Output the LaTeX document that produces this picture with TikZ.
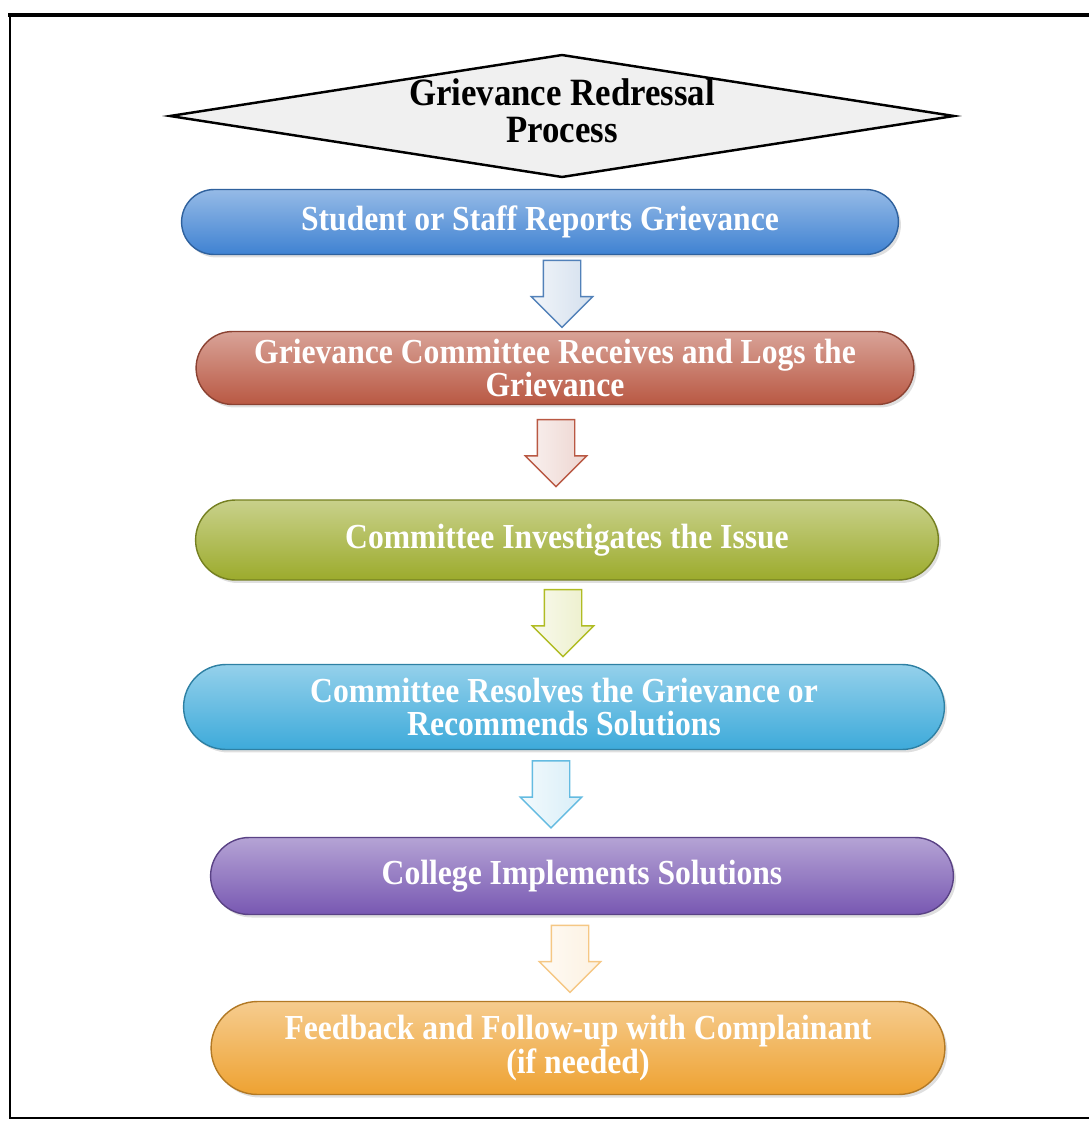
\documentclass[tikz,border=0pt]{standalone}
\usepackage{fontspec}
\setmainfont{Liberation Serif}
\newfontfamily\stepfont[FakeStretch=0.9]{Liberation Serif}
\usetikzlibrary{positioning,shapes.geometric,shapes.misc,shapes.arrows,shadows}

\definecolor{boxblue}{HTML}{3F82D2}
\definecolor{boxred}{HTML}{B95843}
\definecolor{boxgreen}{HTML}{9CAB2C}
\definecolor{boxsky}{HTML}{3DAADA}
\definecolor{boxpurple}{HTML}{7858B2}
\definecolor{boxorange}{HTML}{EEA232}

\begin{document}
\begin{tikzpicture}[x=0.02cm,y=-0.02cm,
  titlebox/.style={diamond, aspect=6.4, draw=black, line width=1.4pt, fill=gray!12,
    minimum width=15.7cm, minimum height=2.46cm, inner sep=0pt,
    font=\stepfont\bfseries\fontsize{22}{21}\selectfont},
  stepbox/.style={rounded rectangle, draw=#1!75!black, line width=0.8pt,
    top color=#1!55!white, bottom color=#1, text=white, align=center,
    inner sep=2pt, font=\stepfont\bfseries\fontsize{20}{19}\selectfont,
    drop shadow={opacity=0.25, shadow xshift=0.05cm, shadow yshift=-0.06cm}},
  flowarrow/.style={yshift=0.17cm, single arrow, rotate=-90, draw=#1, line width=0.8pt,
    left color=#1!8!white, right color=#1!25!white, inner sep=0.36cm,
    minimum height=1.34cm, minimum width=1.2cm,
    single arrow head extend=0.24cm, single arrow head indent=0pt}]
\useasboundingbox (0,0) rectangle (1089,1122);
% frame
\draw[line width=2.2pt] (8,15) -- (1089,15);
\draw[line width=1.2pt] (10,15) -- (10,1118) -- (1089,1118);

\node[titlebox] (title) at (562,116)
  {\raisebox{0.17cm}{\begin{tabular}{@{}c@{}}Grievance Redressal\\Process\end{tabular}}};

\node[stepbox=boxblue, minimum width=14.48cm, minimum height=1.3cm] (report) at (540,222)
  {Student or Staff Reports Grievance};
\node[stepbox=boxred, minimum width=14.5cm, minimum height=1.46cm] (logs) at (555,368)
  {Grievance Committee Receives and Logs the\\Grievance};
\node[stepbox=boxgreen, minimum width=15cm, minimum height=1.6cm] (investigate) at (567,540)
  {Committee Investigates the Issue};
\node[stepbox=boxsky, minimum width=15.36cm, minimum height=1.7cm] (resolve) at (564,707)
  {Committee Resolves the Grievance or\\Recommends Solutions};
\node[stepbox=boxpurple, minimum width=15cm, minimum height=1.54cm] (implement) at (582,876)
  {College Implements Solutions};
\node[stepbox=boxorange, minimum width=14.82cm, minimum height=1.86cm] (feedback) at (578,1048)
  {Feedback and Follow-up with Complainant\\(if needed)};

% block arrows between the steps
\path (report.south) -- (logs.north) node[midway, xshift=0.29cm, flowarrow=boxblue!70!gray] (a1) {};
\path (logs.south) -- (investigate.north) node[midway, xshift=-0.1cm, flowarrow=boxred] (a2) {};
\path (investigate.south) -- (resolve.north) node[midway, xshift=-0.05cm, flowarrow=boxgreen!80!yellow] (a3) {};
\path (resolve.south) -- (implement.north) node[midway, xshift=-0.44cm, flowarrow=boxsky!80!white] (a4) {};
\path (implement.south) -- (feedback.north) node[midway, xshift=-0.2cm, flowarrow=boxorange!60!white] (a5) {};
\end{tikzpicture}
\end{document}
